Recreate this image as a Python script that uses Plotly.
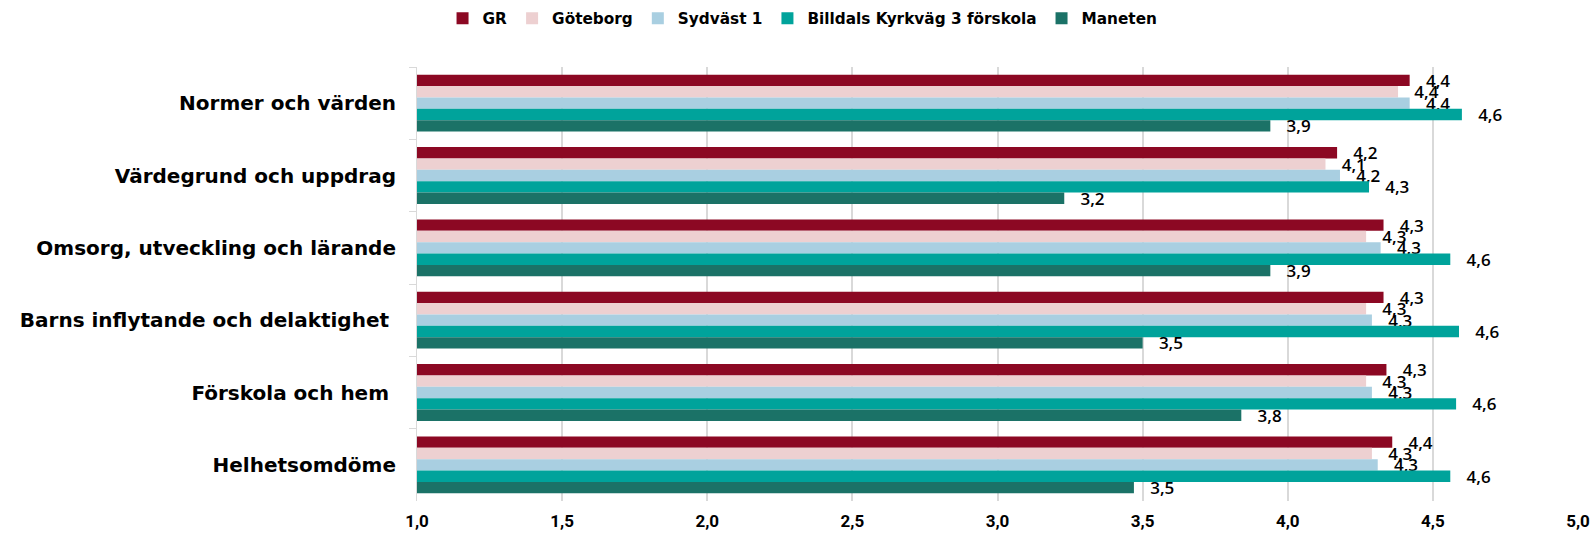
import plotly.graph_objects as go

categories = [
    "Normer och värden",
    "Värdegrund och uppdrag",
    "Omsorg, utveckling och lärande",
    "Barns inflytande och delaktighet\u00a0",
    "Förskola och hem\u00a0",
    "Helhetsomdöme",
]

series_names = ["GR", "Göteborg", "Sydväst 1", "Billdals Kyrkväg 3 förskola", "Maneten"]

gr = [4.42, 4.17, 4.33, 4.33, 4.34, 4.36]
goteborg = [4.38, 4.13, 4.27, 4.27, 4.27, 4.29]
sydvast = [4.42, 4.18, 4.32, 4.29, 4.29, 4.31]
billdals = [4.60, 4.28, 4.56, 4.59, 4.58, 4.56]
maneten = [3.94, 3.23, 3.94, 3.50, 3.84, 3.47]

series_values = [gr, goteborg, sydvast, billdals, maneten]
colors = ["#8c0823", "#edd0d1", "#a9cfe1", "#00a39b", "#1b7267"]

x_ticks = [1.0, 1.5, 2.0, 2.5, 3.0, 3.5, 4.0, 4.5, 5.0]

fig = go.Figure()
for name, vals, col in zip(series_names, series_values, colors):
    fig.add_trace(go.Bar(
        y=categories,
        x=vals,
        name=name,
        orientation="h",
        marker=dict(color=col, line=dict(width=0)),
        texttemplate="\u00a0\u00a0\u00a0%{x:.1f}",
        textposition="outside",
        constraintext="none",
        cliponaxis=False,
        textfont=dict(family="Open Sans", size=17, color="#000000", weight=600),
        hoverinfo="x+y+name",
    ))

fig.update_layout(
    width=1595,
    height=533,
    barmode="group",
    bargap=0.214,
    bargroupgap=0,
    separators=", ",
    plot_bgcolor="white",
    paper_bgcolor="white",
    margin=dict(l=417, r=17, t=67, b=32, autoexpand=False),
    legend=dict(
        orientation="h",
        x=0.022,
        xanchor="left",
        y=1.15,
        yanchor="top",
        font=dict(family="DejaVu Sans", size=15.3, color="#000000", weight="bold"),
        itemwidth=30,
        traceorder="normal",
    ),
    xaxis=dict(
        range=[1.0, 5.0],
        tickvals=x_ticks,
        tickformat=".1f",
        showgrid=True,
        gridcolor="#d9d9d9",
        gridwidth=1.5,
        zeroline=False,
        showline=False,
        ticks="",
        ticklabelstandoff=8,
        tickfont=dict(family="Liberation Sans Narrow, Roboto, sans-serif", size=17, color="#000000", weight="bold"),
    ),
    yaxis=dict(
        type="category",
        categoryorder="array",
        categoryarray=categories,
        autorange="reversed",
        tickson="boundaries",
        ticks="outside",
        ticklen=7,
        tickcolor="#d9d9d9",
        showline=True,
        linecolor="#d9d9d9",
        linewidth=1,
        showgrid=False,
        ticklabelstandoff=16,
        tickfont=dict(family="DejaVu Sans", size=20, color="#000000", weight="bold"),
    ),
)

fig.write_html(
    "out.html",
    config={"displayModeBar": False},
    post_script="document.body.style.margin='0px';document.body.style.overflow='hidden';",
)
